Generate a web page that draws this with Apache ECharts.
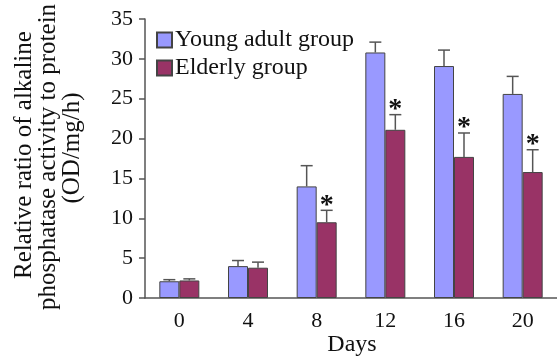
<!DOCTYPE html>
<html>
<head>
<meta charset="utf-8">
<script src="https://cdn.jsdelivr.net/npm/echarts@6/dist/echarts.min.js"></script>
<style>html,body{margin:0;padding:0;background:#fff}#c{width:557px;height:358px}</style>
</head>
<body>
<div id="c"></div>
<script>
var categories = ['0', '4', '8', '12', '16', '20'];
var youngMeans = [2.1, 4.0, 14.0, 30.8, 29.1, 25.6];
var youngErr = [0.2, 0.7, 2.6, 1.3, 2.0, 2.2];
var elderlyMeans = [2.2, 3.8, 9.5, 21.1, 17.7, 15.8];
var elderlyErr = [0.2, 0.7, 1.5, 1.9, 3.0, 2.8];
var elderlySig = [false, false, true, true, true, true];
var yTicks = [0, 5, 10, 15, 20, 25, 30, 35];

var FONT = 'Liberation Serif';
var BAR_W = 20;

function errSeries(name, means, errs, offset, sig) {
  var data = means.map(function (m, i) { return [i, m, errs[i], sig ? (sig[i] ? 1 : 0) : 0]; });
  return {
    type: 'custom',
    name: name + ' err',
    data: data,
    z: 5,
    silent: true,
    renderItem: function (params, api) {
      var idx = api.value(0);
      var mean = api.value(1);
      var err = api.value(2);
      var star = api.value(3);
      var base = api.coord([idx, mean]);
      var top = api.coord([idx, mean + err]);
      var x = base[0] + offset;
      var children = [
        { type: 'line', shape: { x1: x, y1: base[1], x2: x, y2: top[1] }, style: { stroke: '#555', lineWidth: 1.5 } },
        { type: 'line', shape: { x1: x - 6, y1: top[1], x2: x + 6, y2: top[1] }, style: { stroke: '#555', lineWidth: 1.5 } }
      ];
      if (star) {
        children.push({ type: 'text', x: x, y: top[1] + 9, style: { text: '*', fontFamily: FONT, fontSize: 28, fontWeight: 'bold', fill: '#111', align: 'center', verticalAlign: 'bottom' } });
      }
      return { type: 'group', children: children };
    }
  };
}

var chart = echarts.init(document.getElementById('c'));
chart.setOption({
  animation: false,
  textStyle: { fontFamily: FONT },
  grid: { left: 145, top: 19, width: 417, height: 279 },
  legend: {
    orient: 'vertical', left: 151, top: 23, itemWidth: 15, itemHeight: 15, itemGap: 4,
    icon: 'rect',
    textStyle: { fontFamily: FONT, fontSize: 24, color: '#111', padding: [0, 0, 0, -2] },
    data: ['Young adult group', 'Elderly group']
  },
  xAxis: {
    type: 'category', data: categories, boundaryGap: true,
    axisLine: { lineStyle: { color: '#555', width: 1.5 } },
    axisTick: { alignWithLabel: false, length: 6, lineStyle: { color: '#555', width: 1.5 } },
    axisLabel: { fontFamily: FONT, fontSize: 22, color: '#111', margin: 12 }
  },
  yAxis: {
    type: 'value', min: yTicks[0], max: yTicks[yTicks.length - 1], interval: 5,
    axisLine: { show: true, lineStyle: { color: '#555', width: 1.5 } },
    axisTick: { show: true, length: 6, lineStyle: { color: '#555', width: 1.5 } },
    splitLine: { show: false },
    axisLabel: { fontFamily: FONT, fontSize: 22, color: '#111', margin: 12 }
  },
  graphic: [
    { type: 'text', x: 24, y: 155, rotation: Math.PI / 2, style: { text: 'Relative ratio of alkaline', fontFamily: FONT, fontSize: 25, fill: '#111', align: 'center', verticalAlign: 'middle' } },
    { type: 'text', x: 48, y: 157, rotation: Math.PI / 2, style: { text: 'phosphatase activity to protein', fontFamily: FONT, fontSize: 25, fill: '#111', align: 'center', verticalAlign: 'middle' } },
    { type: 'text', x: 72, y: 148, rotation: Math.PI / 2, style: { text: '(OD/mg/h)', fontFamily: FONT, fontSize: 25, fill: '#111', align: 'center', verticalAlign: 'middle' } },
    { type: 'text', x: 352, y: 345, style: { text: 'Days', fontFamily: FONT, fontSize: 24, fill: '#111', align: 'center', verticalAlign: 'middle' } }
  ],
  series: [
    { type: 'bar', name: 'Young adult group', data: youngMeans, barWidth: BAR_W, barGap: '0%',
      itemStyle: { color: '#9999FF', borderColor: '#444', borderWidth: 1 } },
    { type: 'bar', name: 'Elderly group', data: elderlyMeans, barWidth: BAR_W, barGap: '0%',
      itemStyle: { color: '#993366', borderColor: '#444', borderWidth: 1 } },
    errSeries('Young adult group', youngMeans, youngErr, -BAR_W / 2, null),
    errSeries('Elderly group', elderlyMeans, elderlyErr, BAR_W / 2, elderlySig)
  ]
});
</script>
</body>
</html>
